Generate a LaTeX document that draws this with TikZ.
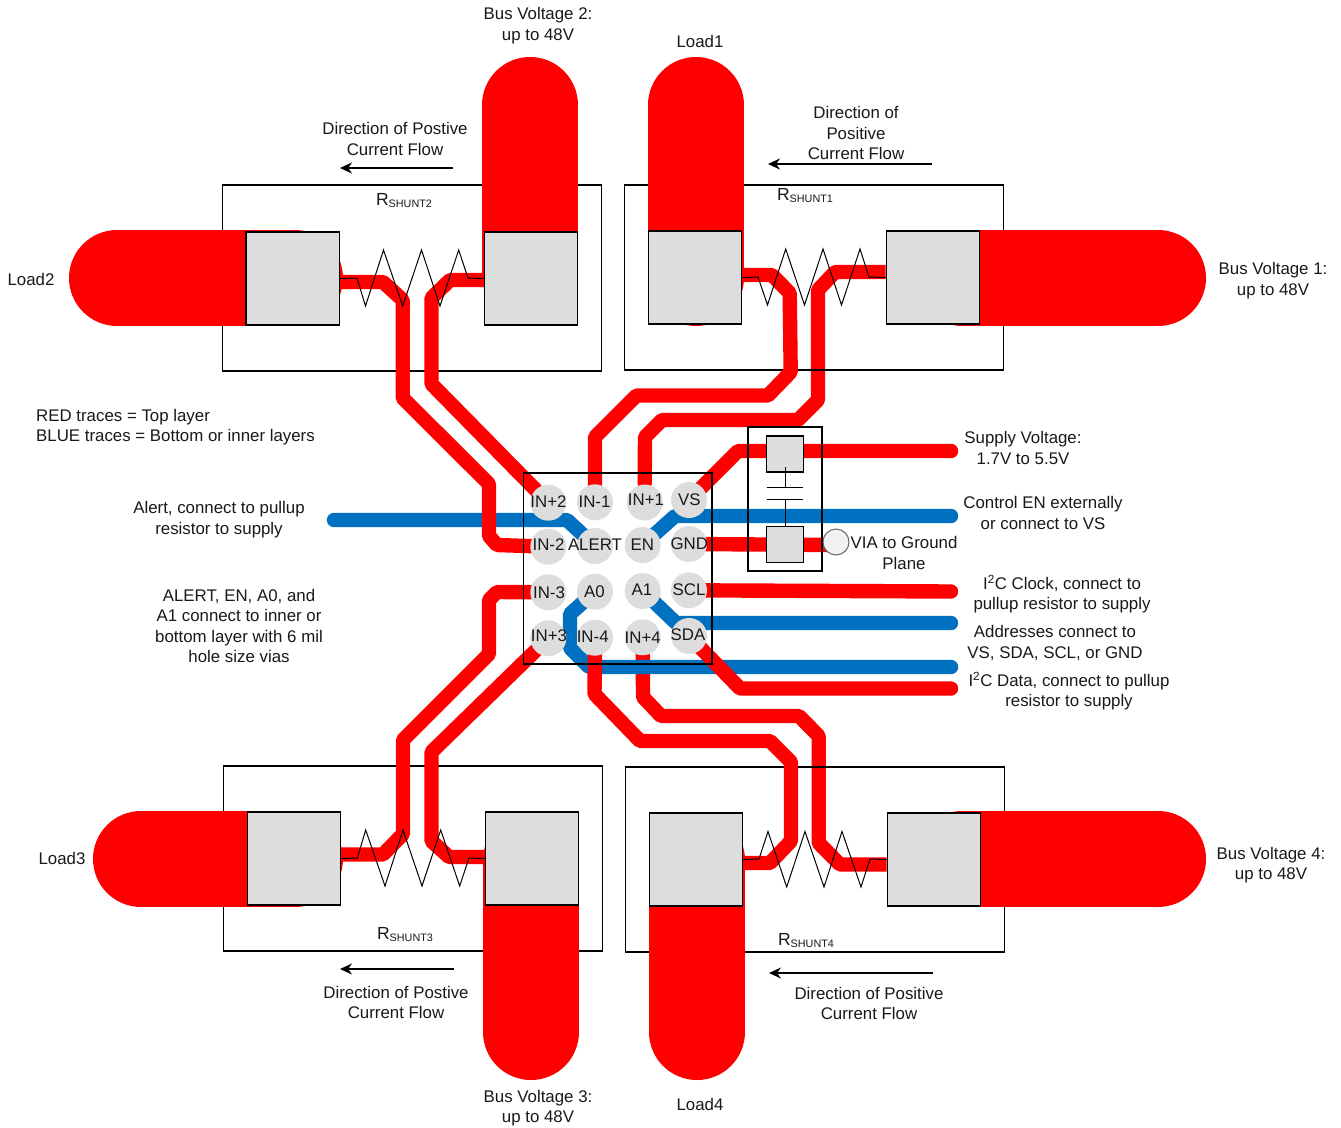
\documentclass[tikz,border=0pt]{standalone}
\usepackage{fontspec}
\setmainfont{Liberation Sans}
\usetikzlibrary{arrows.meta}
\definecolor{tracered}{HTML}{FF0000}
\definecolor{traceblue}{HTML}{0070C0}
\definecolor{padgray}{HTML}{DDDDDD}
\definecolor{viagray}{HTML}{F2F2F2}
\newcommand{\rsh}[1]{{\fontsize{17.5}{20}\selectfont R}{\fontsize{10.8}{12}\selectfont\raisebox{-2pt}{SHUNT#1}}}
\begin{document}
\begin{tikzpicture}[x=1pt,y=-1pt,
  stad/.style={line width=96pt,tracered,line cap=round},
  redtr/.style={line width=14.4pt,tracered,line join=bevel},
  bluetr/.style={line width=14.4pt,traceblue,line join=bevel},
  padbox/.style={draw=black,fill=padgray,line width=1.2pt,inner sep=0pt,minimum width=93.5pt,minimum height=93pt},
  cappad/.style={draw=black,fill=padgray,line width=1.2pt,inner sep=0pt,minimum width=37.5pt,minimum height=36pt},
  shuntbox/.style={draw=black,line width=1.1pt,inner sep=0pt,minimum width=379.5pt,minimum height=186pt},
  chipbox/.style={draw=black,line width=1.6pt,inner sep=0pt},
  pinc/.style={circle,fill=padgray,inner sep=0pt,minimum size=36pt},
  txt/.style={align=center,inner sep=0pt,font=\fontsize{16.85}{20.4}\selectfont,text=black!90},
  zig/.style={draw=black,line width=1pt,line join=miter},
  flow/.style={draw=black,line width=1.3pt,-{Stealth[length=12pt,width=11pt]}},
]
\useasboundingbox (0,0) rectangle (1341,1127);
\fill[white] (0,0) rectangle (1341,1127);

% pads (named first so that traces can refer to them; repainted later)
\path
  node[padbox,draw=none,fill=none] (r2l) at (292.7,278.5) {}
  node[padbox,draw=none,fill=none] (r2r) at (531,278.5) {}
  node[padbox,draw=none,fill=none] (r1l) at (695,277.5) {}
  node[padbox,draw=none,fill=none] (r1r) at (933,277.5) {}
  node[padbox,draw=none,fill=none] (r3l) at (294,858.5) {}
  node[padbox,draw=none,fill=none] (r3r) at (532,858.5) {}
  node[padbox,draw=none,fill=none] (r4l) at (696,859.5) {}
  node[padbox,draw=none,fill=none] (r4r) at (934,859.5) {}
  node[pinc,fill=none] (inp2) at (548.3,502.7) {}
  node[pinc,fill=none] (inm1) at (595,502.3) {}
  node[pinc,fill=none] (inp1) at (644.7,502.5) {}
  node[pinc,fill=none] (vs) at (689,500) {}
  node[pinc,fill=none] (inm2) at (548.3,546.7) {}
  node[pinc,fill=none] (alert) at (595,546) {}
  node[pinc,fill=none] (en) at (642.7,545) {}
  node[pinc,fill=none] (gnd) at (689,544) {}
  node[pinc,fill=none] (inm3) at (548.3,592.3) {}
  node[pinc,fill=none] (azero) at (595,591.7) {}
  node[pinc,fill=none] (aone) at (642.7,591) {}
  node[pinc,fill=none] (scl) at (689,590.3) {}
  node[pinc,fill=none] (inp3) at (548.3,638.3) {}
  node[pinc,fill=none] (inm4) at (595,637.7) {}
  node[pinc,fill=none] (inp4) at (642.7,637.3) {}
  node[pinc,fill=none] (sda) at (689,636) {};

% traces that run over the shunt box outline are drawn before it
\draw[redtr] ([yshift=5.5pt]r1r.west) -- (835,272) -- (818,290) -- (818,400) -- (798,420) -- (662,420) -- (645,437) -- (644.7,483);
\fill[tracered] (644.7,483) circle (7.2pt);
\draw[redtr] ([yshift=-5pt]r4r.west) -- (840,864.5) -- (818.7,843) -- (818.7,736) -- (799,716) -- (661,716) -- (643,697) -- (inp4.center);

% shunt boxes
\node[shuntbox] (r2box) at (412,278) {};
\node[shuntbox,minimum height=185pt] (r1box) at (814,277.5) {};
\node[shuntbox,minimum height=185pt] (r3box) at (413,858.5) {};
\node[shuntbox,minimum height=185pt] (r4box) at (815,859.5) {};

% wide copper
\draw[stad] (117,278) -- (295,278);
\draw[stad] (530,105) -- (530,275);
\draw[stad] (696,105) -- (696,278);
\draw[stad] (1158,278) -- (962,278);
\draw[stad] (141,859) -- (295,859);
\draw[stad] (531,1032) -- (531,860);
\draw[stad] (697,1032) -- (697,860);
\draw[stad] (1158,859) -- (962,859);

% blue traces
\coordinate (endalert) at (334,520);
\coordinate (enden) at (951,516);
\coordinate (enda1) at (951,623);
\coordinate (enda0) at (951,667);
\draw[bluetr,line cap=round] (endalert) -- (567,520) -- (alert.center);
\draw[bluetr,line cap=round] (en.center) -- (675,516) -- (enden);
\draw[bluetr,line cap=round] (aone.center) -- (676,623) -- (enda1);
\draw[bluetr,line cap=round] (azero.center) -- (570,614) -- (570,648) -- (589,667) -- (enda0);

% red traces
\draw[redtr] ([yshift=-3.5pt]r2l.east) -- (383,282) -- (402.7,300) -- (402.7,398) -- (489,484) -- (489,536) -- (497,545) -- (inm2.center);
\draw[redtr] ([yshift=-1.5pt]r2r.west) -- (450,280) -- (431.5,298) -- (431.5,384) -- (inp2.center);
\draw[redtr] ([yshift=2.5pt]r1l.east) -- (772,275) -- (789.7,293) -- (790.7,372) -- (768,395.5) -- (636.5,395.5) -- (595,437) -- (inm1.center);
\draw[redtr,line cap=round] (vs.center) -- (738,451) -- (951,451);
\draw[redtr] (gnd.center) -- (836,545);
\draw[redtr,line cap=round] (scl.center) -- (951,591.5);
\draw[redtr,line cap=round] (sda.center) -- (740,688.5) -- (951,688.5);
\draw[redtr] (inm3.center) -- (497,592) -- (489,600) -- (489,654) -- (403,740) -- (403,834) -- (383,854.5) -- ([yshift=4pt]r3l.east);
\draw[redtr] (inp3.center) -- (431.5,752) -- (431.5,841) -- (449,857) -- ([yshift=1.5pt]r3r.west);
\draw[redtr] (inm4.center) -- (594.5,694) -- (640,741) -- (770,741) -- (791,762) -- (791,841) -- (770,863) -- ([yshift=-3.5pt]r4l.east);

% chip outline
\draw[chipbox] (523.3,472.7) rectangle (712,664);

% pads
\node[padbox] (r2lp) at (r2l) {};
\node[padbox] (r2rp) at (r2r) {};
\node[padbox] (r1lp) at (r1l) {};
\node[padbox] (r1rp) at (r1r) {};
\node[padbox] (r3lp) at (r3l) {};
\node[padbox] (r3rp) at (r3r) {};
\node[padbox] (r4lp) at (r4l) {};
\node[padbox] (r4rp) at (r4r) {};

% resistor symbols
\draw[zig] (r2l.east) -- (357,278) -- (365.5,306) -- (383.5,250) -- (402.7,306) -- (421.5,250) -- (440,306) -- (458.7,250) -- (468,278) -- (r2r.west);
\draw[zig] (r1l.east) -- (758,277) -- (767.5,305) -- (785.7,249) -- (804.5,305) -- (823,249) -- (841.5,305) -- (860,249) -- (869,277) -- (r1r.west);
\draw[zig] (r3l.east) -- (357.3,858) -- (365.7,830) -- (385,886) -- (403,830) -- (422,886) -- (440.7,830) -- (459.7,886) -- (469,858) -- (r3r.west);
\draw[zig] (r4l.east) -- (759,859) -- (768,831.5) -- (786.7,887) -- (805,831.5) -- (824,887) -- (842,831.5) -- (861,887) -- (870,859) -- (r4r.west);

% decoupling capacitor
\node[draw=black,line width=1.1pt,inner sep=0pt,minimum width=74pt,minimum height=144pt] (capbox) at (785,499) {};
\node[cappad] (cpt) at (785,454) {};
\node[cappad] (cpb) at (785,544.5) {};
\coordinate (pla) at (785,487.7);
\coordinate (plb) at (785,499.3);
\draw[line width=1pt] (cpt.south) ++(0,-5.5) -- (pla);
\draw[line width=1pt] (plb) -- (cpb.north);
\draw[line width=1pt] (766.7,487.7) -- (802.7,487.7);
\draw[line width=1pt] (766.7,499.3) -- (802.7,499.3);
\node[circle,draw=black!60,fill=viagray,line width=1pt,inner sep=0pt,minimum size=26pt] (via) at (836,542) {};

% pins
\foreach \n in {inp2,inm1,inp1,vs,inm2,alert,en,gnd,inm3,azero,aone,scl,inp3,inm4,inp4,sda}
  \node[pinc] (c\n) at (\n) {};
\node[txt] (tinp2) at (548.5,502) {IN+2};
\node[txt] (tinm1) at (594.5,502) {IN-1};
\node[txt] (tinp1) at (646,499.3) {IN+1};
\node[txt] (tvs) at (689.3,499.3) {VS};
\node[txt] (tinm2) at (548.5,545) {IN-2};
\node[txt] (talert) at (595,545) {ALERT};
\node[txt] (ten) at (642.3,545) {EN};
\node[txt] (tgnd) at (689.3,544) {GND};
\node[txt] (tinm3) at (549,592.5) {IN-3};
\node[txt] (tazero) at (594.5,591.5) {A0};
\node[txt] (taone) at (642,589.5) {A1};
\node[txt] (tscl) at (689,590) {SCL};
\node[txt] (tinp3) at (549,636) {IN+3};
\node[txt] (tinm4) at (592.7,636.5) {IN-4};
\node[txt] (tinp4) at (642.7,637.3) {IN+4};
\node[txt] (tsda) at (688,635) {SDA};

% flow arrows
\coordinate (fa) at (453,168); \coordinate (fb) at (340,168);
\coordinate (fc) at (932,164); \coordinate (fd) at (768,164);
\coordinate (fe) at (454,969); \coordinate (ff) at (340,969);
\coordinate (fg) at (933,973); \coordinate (fh) at (769,973);
\draw[flow] (fa) -- (fb);
\draw[flow] (fc) -- (fd);
\draw[flow] (fe) -- (ff);
\draw[flow] (fg) -- (fh);

% labels
\node[txt] (l1) at (538,25.5) {Bus Voltage 2:\\up to 48V};
\node[txt] (l2) at (700,41) {Load1};
\node[txt] (l3) at (395,139) {Direction of Postive\\Current Flow};
\node[txt] (l4) at (856,133) {Direction of\\Positive\\Current Flow};
\node[txt] (l5) at (404,201) {\rsh{2}};
\node[txt] (l6) at (805,196) {\rsh{1}};
\node[txt] (l7) at (31,279) {Load2};
\node[txt] (l8) at (1273,280.5) {Bus Voltage 1:\\up to 48V};
\node[txt,align=left,anchor=west] (l9) at (36,427) {RED traces = Top layer\\BLUE traces = Bottom or inner layers};
\node[txt] (l10) at (219,519.5) {Alert, connect to pullup\\resistor to supply};
\node[txt] (l11) at (239,626) {ALERT, EN, A0, and\\A1 connect to inner or\\bottom layer with 6 mil\\hole size vias};
\node[txt] (l12) at (1023,448) {Supply Voltage:\\1.7V to 5.5V};
\node[txt] (l13) at (1043,513) {Control EN externally\\or connect to VS};
\node[txt] (l14) at (904,553) {VIA to Ground\\Plane};
\node[txt] (l15) at (1062,594) {I\textsuperscript{2}C Clock, connect to\\pullup resistor to supply};
\node[txt] (l16) at (1055,643) {Addresses connect to\\VS, SDA, SCL, or GND};
\node[txt] (l17) at (1069,691) {I\textsuperscript{2}C Data, connect to pullup\\resistor to supply};
\node[txt] (l18) at (62,858) {Load3};
\node[txt] (l19) at (1271,865) {Bus Voltage 4:\\up to 48V};
\node[txt] (l20) at (405,935) {\rsh{3}};
\node[txt] (l21) at (806,941) {\rsh{4}};
\node[txt] (l22) at (396,1002.5) {Direction of Postive\\Current Flow};
\node[txt] (l23) at (869,1003.5) {Direction of Positive\\Current Flow};
\node[txt] (l24) at (538,1108) {Bus Voltage 3:\\up to 48V};
\node[txt] (l25) at (700,1104) {Load4};
\end{tikzpicture}
\end{document}
